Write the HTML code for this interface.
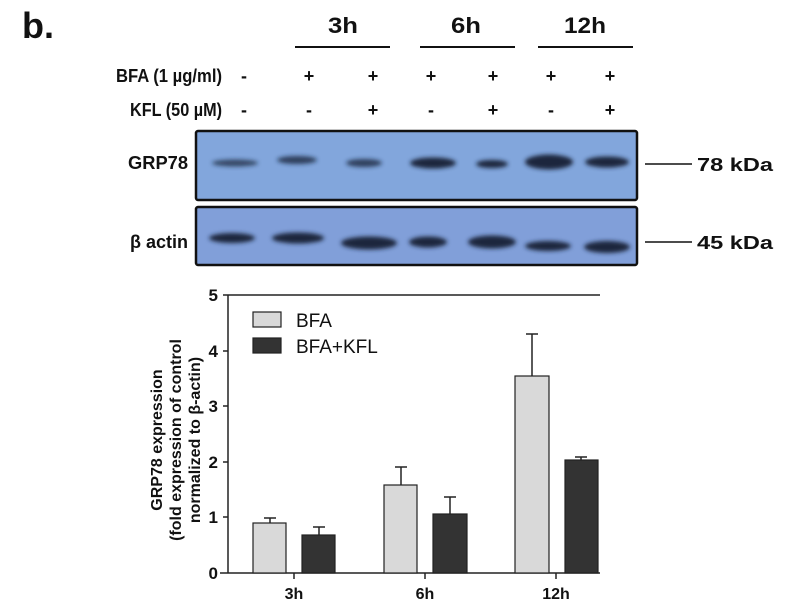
<!DOCTYPE html>
<html><head><style>
body{margin:0;background:#fff;width:800px;height:600px;overflow:hidden;font-family:"Liberation Sans",sans-serif;}
</style></head><body>
<svg width="800" height="600" xmlns="http://www.w3.org/2000/svg">
<defs><filter id="b" x="-50%" y="-100%" width="200%" height="300%"><feGaussianBlur stdDeviation="2.2"/></filter></defs>
<g font-family="Liberation Sans, sans-serif" font-weight="bold" fill="#111">
<text x="22" y="38" font-size="36">b.</text>
<text x="343" y="33" font-size="22" text-anchor="middle" textLength="30" lengthAdjust="spacingAndGlyphs">3h</text>
<text x="466" y="33" font-size="22" text-anchor="middle" textLength="30" lengthAdjust="spacingAndGlyphs">6h</text>
<text x="585" y="33" font-size="22" text-anchor="middle" textLength="42" lengthAdjust="spacingAndGlyphs">12h</text>
<line x1="295" y1="47" x2="390" y2="47" stroke="#111" stroke-width="2"/>
<line x1="420" y1="47" x2="515" y2="47" stroke="#111" stroke-width="2"/>
<line x1="538" y1="47" x2="633" y2="47" stroke="#111" stroke-width="2"/>
<text x="222" y="82" font-size="18" text-anchor="end" textLength="106" lengthAdjust="spacingAndGlyphs">BFA (1 µg/ml)</text>
<text x="222" y="116" font-size="18" text-anchor="end" textLength="92" lengthAdjust="spacingAndGlyphs">KFL (50 µM)</text>
<g font-size="18" text-anchor="middle">
<text x="244" y="82">-</text><text x="309" y="82">+</text><text x="373" y="82">+</text><text x="431" y="82">+</text><text x="493" y="82">+</text><text x="551" y="82">+</text><text x="610" y="82">+</text>
<text x="244" y="116">-</text><text x="309" y="116">-</text><text x="373" y="116">+</text><text x="431" y="116">-</text><text x="493" y="116">+</text><text x="551" y="116">-</text><text x="610" y="116">+</text>
</g>
<text x="188" y="169" font-size="18" text-anchor="end" textLength="60" lengthAdjust="spacingAndGlyphs">GRP78</text>
<text x="188" y="248" font-size="18" text-anchor="end" textLength="58" lengthAdjust="spacingAndGlyphs">β actin</text>
<text x="697" y="171" font-size="18" textLength="76" lengthAdjust="spacingAndGlyphs">78 kDa</text>
<text x="697" y="249" font-size="18" textLength="76" lengthAdjust="spacingAndGlyphs">45 kDa</text>
</g>
<line x1="645" y1="164" x2="692" y2="164" stroke="#111" stroke-width="1.5"/>
<line x1="645" y1="242" x2="692" y2="242" stroke="#111" stroke-width="1.5"/>
<rect x="196" y="131" width="441" height="69" fill="#82a6dc" stroke="#111" stroke-width="2.5" rx="2"/>
<rect x="196" y="207" width="441" height="58" fill="#819fd9" stroke="#111" stroke-width="2.5" rx="2"/>
<g fill="#1a263d" filter="url(#b)">
<ellipse cx="235" cy="163" rx="23" ry="3.5" opacity="0.75"/>
<ellipse cx="297" cy="160" rx="20" ry="4" opacity="0.8"/>
<ellipse cx="364" cy="163" rx="18" ry="4" opacity="0.8"/>
<ellipse cx="433" cy="163" rx="23" ry="5.5"/>
<ellipse cx="492" cy="164" rx="16" ry="4"/>
<ellipse cx="549" cy="162" rx="24" ry="7.5"/>
<ellipse cx="607" cy="162" rx="22" ry="5.5"/>
<ellipse cx="232" cy="238" rx="23" ry="5"/>
<ellipse cx="298" cy="238" rx="26" ry="5.5"/>
<ellipse cx="369" cy="243" rx="28" ry="6.5"/>
<ellipse cx="428" cy="242" rx="19" ry="5.5"/>
<ellipse cx="492" cy="242" rx="24" ry="6.5"/>
<ellipse cx="548" cy="246" rx="23" ry="5"/>
<ellipse cx="607" cy="247" rx="23" ry="6"/>
</g>
<!-- chart -->
<g stroke="#222" stroke-width="1.5">
<line x1="228" y1="295" x2="228" y2="573"/>
<line x1="228" y1="295" x2="600" y2="295"/>
<line x1="220" y1="573" x2="600" y2="573"/>
<line x1="223" y1="295" x2="228" y2="295"/><line x1="223" y1="351" x2="228" y2="351"/><line x1="223" y1="406" x2="228" y2="406"/><line x1="223" y1="462" x2="228" y2="462"/><line x1="223" y1="517" x2="228" y2="517"/>
<line x1="294" y1="573" x2="294" y2="579"/><line x1="425" y1="573" x2="425" y2="579"/><line x1="556" y1="573" x2="556" y2="579"/>
<line x1="270" y1="523" x2="270" y2="518"/><line x1="264" y1="518" x2="276" y2="518"/>
<line x1="319" y1="535" x2="319" y2="527"/><line x1="313" y1="527" x2="325" y2="527"/>
<line x1="401" y1="485" x2="401" y2="467"/><line x1="395" y1="467" x2="407" y2="467"/>
<line x1="450" y1="514" x2="450" y2="497"/><line x1="444" y1="497" x2="456" y2="497"/>
<line x1="532" y1="376" x2="532" y2="334"/><line x1="526" y1="334" x2="538" y2="334"/>
<line x1="581" y1="460" x2="581" y2="457"/><line x1="575" y1="457" x2="587" y2="457"/>
</g>
<g stroke="#222" stroke-width="1.2">
<rect x="253" y="523" width="33" height="50" fill="#d9d9d9"/>
<rect x="302" y="535" width="33" height="38" fill="#333"/>
<rect x="384" y="485" width="33" height="88" fill="#d9d9d9"/>
<rect x="433" y="514" width="34" height="59" fill="#333"/>
<rect x="515" y="376" width="34" height="197" fill="#d9d9d9"/>
<rect x="565" y="460" width="33" height="113" fill="#333"/>
<rect x="253" y="312" width="28" height="15" fill="#d9d9d9"/>
<rect x="253" y="338" width="28" height="15" fill="#333"/>
</g>
<g font-family="Liberation Sans, sans-serif" fill="#111">
<text x="296" y="327" font-size="19">BFA</text>
<text x="296" y="353" font-size="19">BFA+KFL</text>
<g font-size="17" font-weight="bold" text-anchor="end">
<text x="218" y="301">5</text><text x="218" y="357">4</text><text x="218" y="412">3</text><text x="218" y="468">2</text><text x="218" y="523">1</text><text x="218" y="579">0</text>
</g>
<g font-size="16" font-weight="bold" text-anchor="middle">
<text x="294" y="599">3h</text><text x="425" y="599">6h</text><text x="556" y="599">12h</text>
</g>
<g font-size="16" font-weight="bold" text-anchor="middle">
<text transform="translate(162,440) rotate(-90)">GRP78 expression</text>
<text transform="translate(181,440) rotate(-90)">(fold expression of control</text>
<text transform="translate(200,440) rotate(-90)">normalized to β-actin)</text>
</g>
</g>
</svg>
</body></html>
